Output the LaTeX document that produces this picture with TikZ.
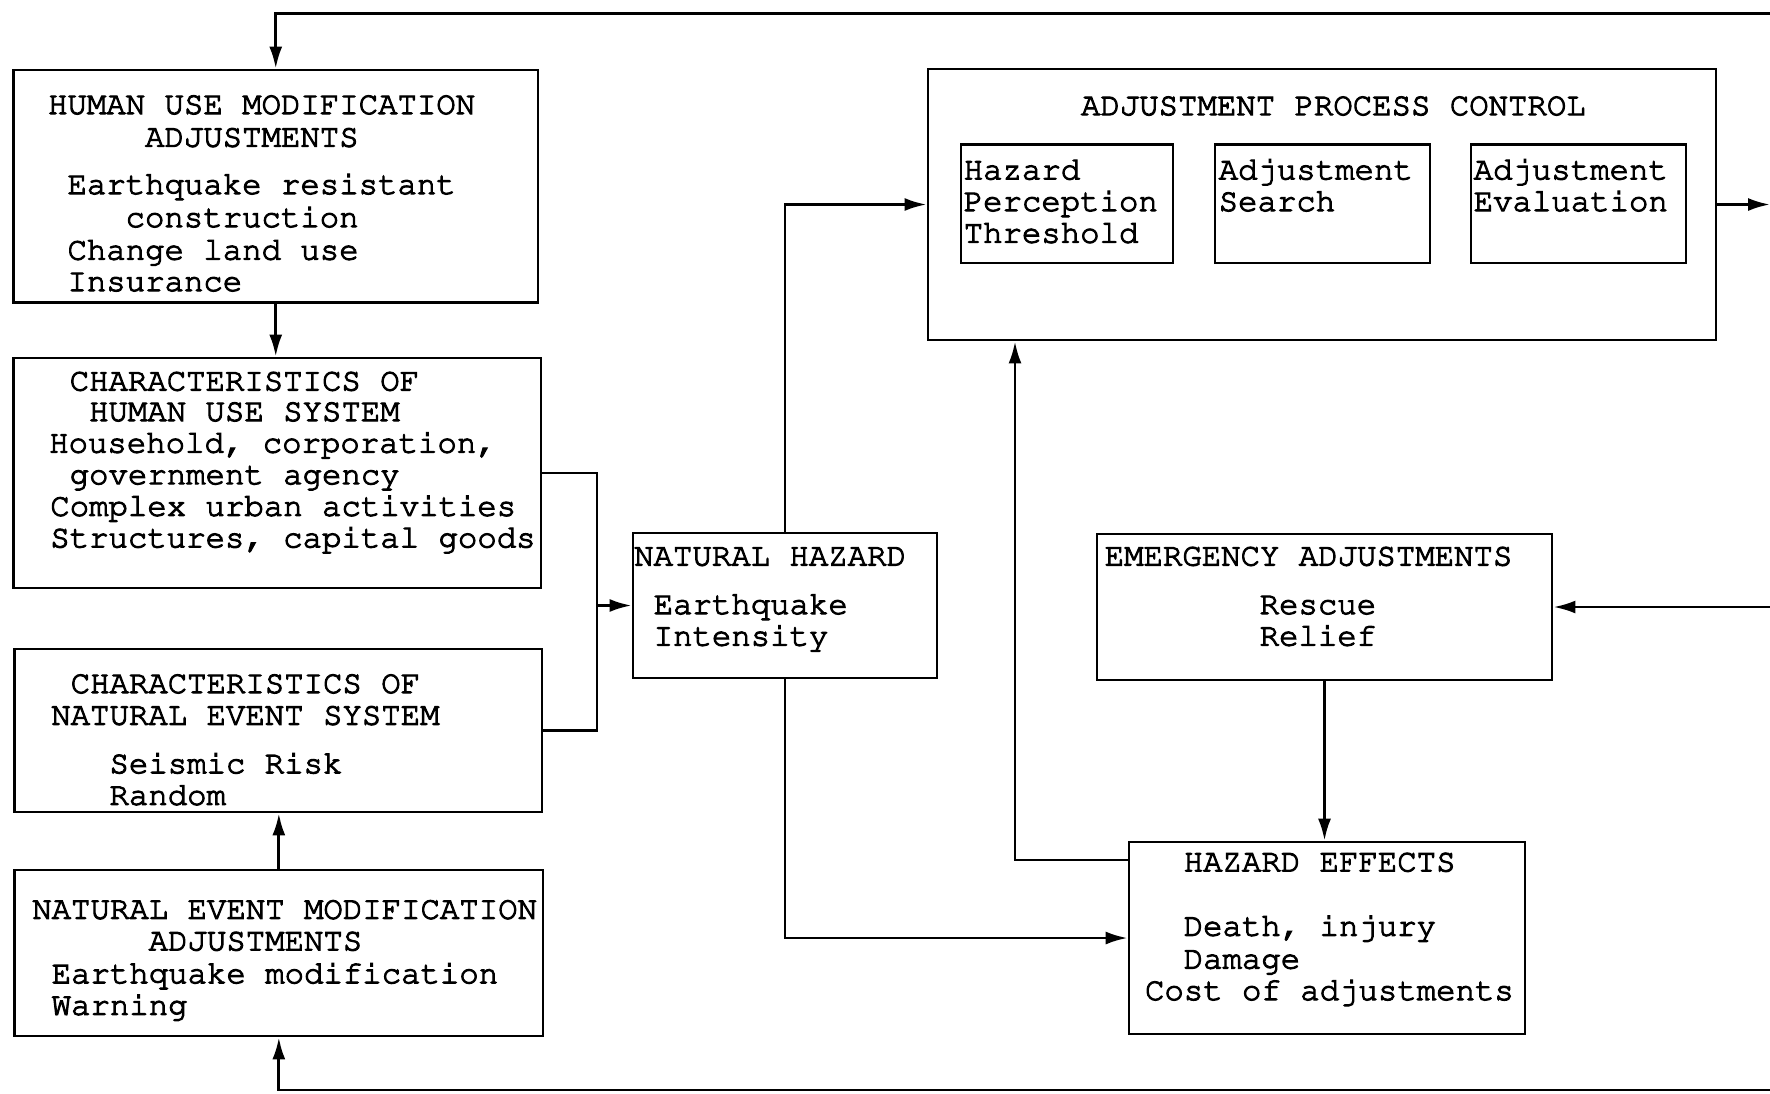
\documentclass[tikz,border=0pt]{standalone}
\usepackage[T1]{fontenc}
\usepackage{courier}
\usetikzlibrary{arrows.meta,fit}
\tikzset{
  box/.style={draw, line width=0.8pt, inner sep=0pt},
  txt/.style={anchor=base west, inner sep=0pt,
    font=\ttfamily\fontsize{9.2pt}{9.2pt}\selectfont\special{pdf:literal direct 2 Tr 0.3 w}},
  conn/.style={line width=0.8pt},
  arr/.style={conn, -{Latex[length=0.22cm,width=0.13cm]}}
}
\begin{document}
\begin{tikzpicture}[x=0.01cm, y=-0.01cm]
\useasboundingbox (0,0) rectangle (1770,1093);
% boxes
\node[box, fit={(13.5,70) (538,302.5)}] (hum) {};
\node[box, fit={(13.5,358) (541,588)}] (chu) {};
\node[box, fit={(14.7,649) (542,812)}] (cne) {};
\node[box, fit={(14.7,870) (543,1036)}] (nem) {};
\node[box, fit={(633,533) (937,678)}] (nh) {};
\node[box, fit={(928,69) (1716,340)}] (apc) {};
\node[box, fit={(961,144.5) (1173,263)}] (hpt) {};
\node[box, fit={(1215,144.5) (1430,263)}] (as) {};
\node[box, fit={(1471,144.5) (1686,263)}] (ae) {};
\node[box, fit={(1097,534) (1552,680)}] (ea) {};
\node[box, fit={(1129,842) (1525,1034)}] (he) {};
% texts: human use modification
\node[txt] (h1) at (47.4,114) {HUMAN USE MODIFICATION};
\node[txt] (h2) at (144.4,146.7) {ADJUSTMENTS};
\node[txt] (h3) at (66.8,194) {Earthquake resistant};
\node[txt] (h4) at (124.9,227) {construction};
\node[txt] (h5) at (66.8,259.6) {Change land use};
\node[txt] (h6) at (66.8,291) {Insurance};
% characteristics of human use system
\node[txt] (c1) at (69,390.5) {CHARACTERISTICS OF};
\node[txt] (c2) at (88.4,421) {HUMAN USE SYSTEM};
\node[txt] (c3) at (48.5,452.6) {Household, corporation,};
\node[txt] (c4) at (69,484.2) {government agency};
\node[txt] (c5) at (49.6,515.8) {Complex urban activities};
\node[txt] (c6) at (49.6,547.4) {Structures, capital goods};
% characteristics of natural event system
\node[txt] (n1) at (70,693) {CHARACTERISTICS OF};
\node[txt] (n2) at (50.6,724.7) {NATURAL EVENT SYSTEM};
\node[txt] (n3) at (108.8,773.2) {Seismic Risk};
\node[txt] (n4) at (108.8,804.8) {Random};
% natural event modification
\node[txt] (m1) at (31.6,918.8) {NATURAL EVENT MODIFICATION};
\node[txt] (m2) at (148,950.4) {ADJUSTMENTS};
\node[txt] (m3) at (51,983.2) {Earthquake modification};
\node[txt] (m4) at (51,1014.8) {Warning};
% natural hazard
\node[txt] (z1) at (633.5,565.5) {NATURAL HAZARD};
\node[txt] (z2) at (653,614) {Earthquake};
\node[txt] (z3) at (653,645.6) {Intensity};
% adjustment process control
\node[txt] (p1) at (1080.3,115.1) {ADJUSTMENT PROCESS CONTROL};
\node[txt] (p2) at (963,179.4) {Hazard};
\node[txt] (p3) at (963,211) {Perception};
\node[txt] (p4) at (963,242.7) {Threshold};
\node[txt] (p5) at (1218,179.4) {Adjustment};
\node[txt] (p6) at (1218,211) {Search};
\node[txt] (p7) at (1473,179.4) {Adjustment};
\node[txt] (p8) at (1473,211) {Evaluation};
% emergency adjustments
\node[txt] (e1) at (1104,565.5) {EMERGENCY ADJUSTMENTS};
\node[txt] (e2) at (1259,614) {Rescue};
\node[txt] (e3) at (1259,645.6) {Relief};
% hazard effects
\node[txt] (f1) at (1183,871.4) {HAZARD EFFECTS};
\node[txt] (f2) at (1183,935.7) {Death, injury};
\node[txt] (f3) at (1183,968.5) {Damage};
\node[txt] (f4) at (1144.3,1000) {Cost of adjustments};
% free ends and junctions
\coordinate (rtop) at (1770,13.5);
\coordinate (rbot) at (1770,1090);
\coordinate (rapc) at (1770,204.5);
\coordinate (rea) at (1770,607);
\coordinate (jx) at (597,605.5);
\coordinate (hu) at (1015,860);
% connectors
\draw[arr] (rtop) -| (hum.north);
\draw[arr] (hum.south) -- (hum.south |- chu.north);
\draw[arr] (rbot) -| (nem.south);
\draw[arr] (nem.north) -- (nem.north |- cne.south);
\draw[conn] (chu.east) -- (chu.east -| jx) -- (cne.east -| jx) -- (cne.east);
\draw[arr] (jx |- nh.west) -- (nh.west);
\draw[arr] (nh.north) |- (apc.west);
\draw[arr] (apc.east) -- (rapc);
\draw[arr] (nh.south) |- (he.west);
\draw[arr] (he.west |- hu) -- (hu) -- (hu |- apc.south);
\draw[arr] (ea.south) -- (ea.south |- he.north);
\draw[arr] (rea) -- (ea.east);
\end{tikzpicture}
\end{document}
